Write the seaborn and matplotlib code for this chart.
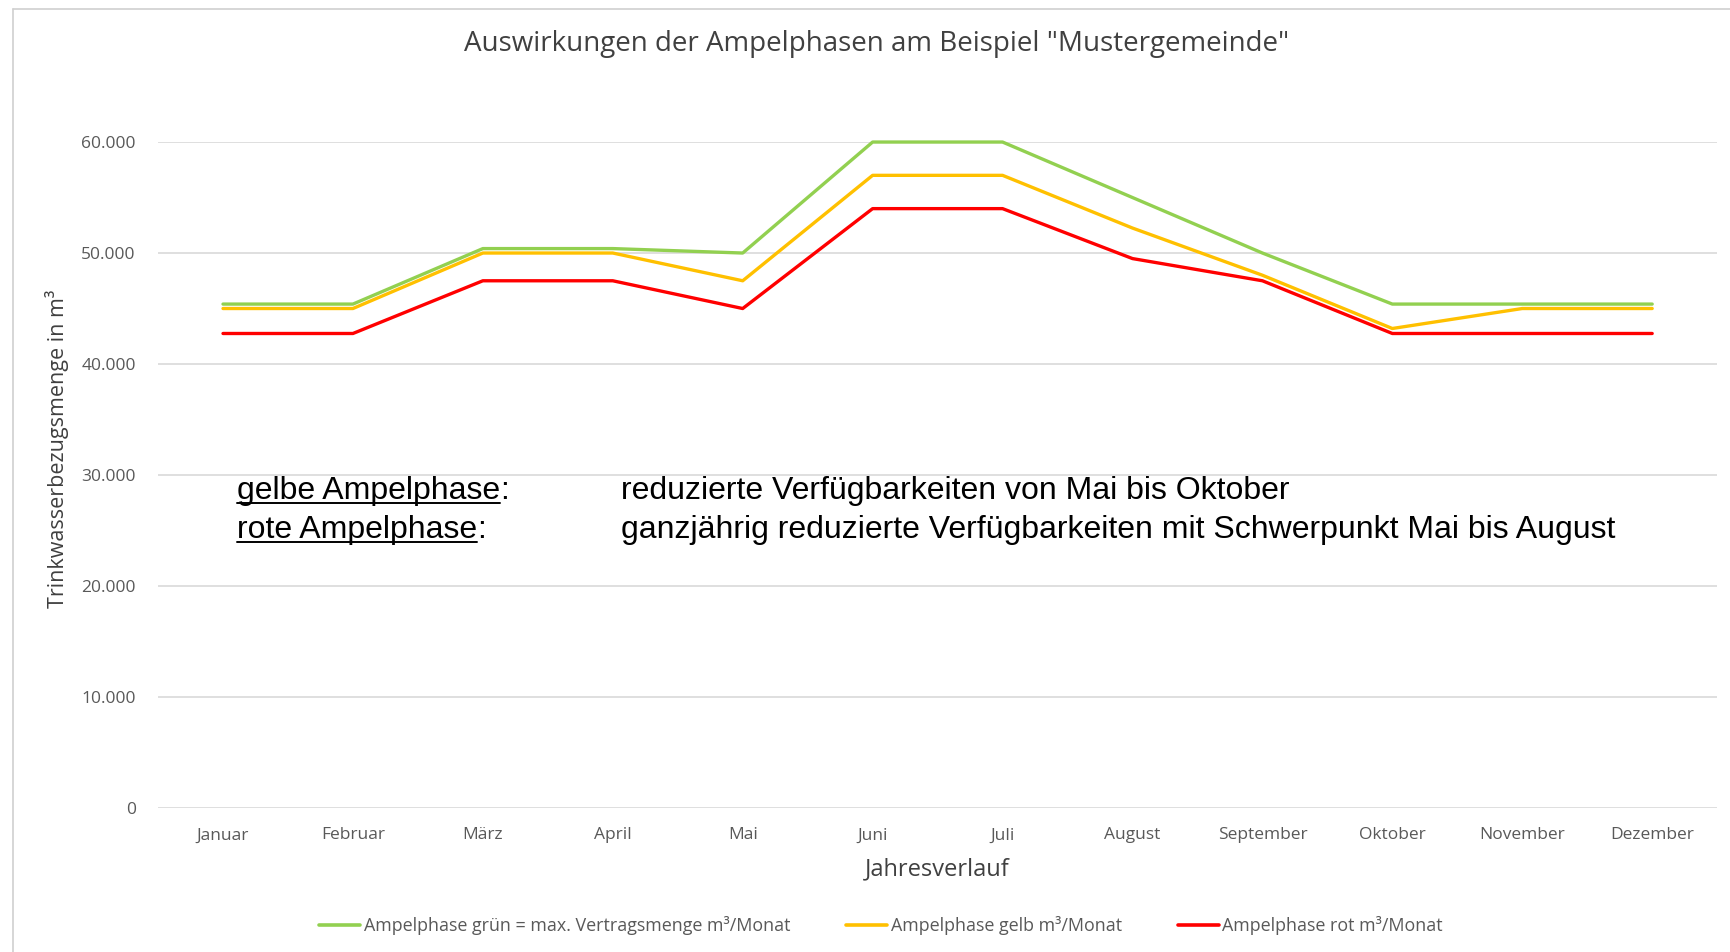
import matplotlib
matplotlib.use("Agg")
import matplotlib.pyplot as plt
from matplotlib.lines import Line2D
from matplotlib.ticker import FuncFormatter
import seaborn as sns
import pandas as pd

# Monthly drinking-water volumes per traffic-light phase (m³)
monate = ["Januar", "Februar", "März", "April", "Mai", "Juni", "Juli",
          "August", "September", "Oktober", "November", "Dezember"]
gruen = [45400, 45400, 50400, 50400, 50000, 60000, 60000, 55000, 50000, 45400, 45400, 45400]
gelb = [45000, 45000, 50000, 50000, 47500, 57000, 57000, 52250, 48000, 43200, 45000, 45000]
rot = [42750, 42750, 47500, 47500, 45000, 54000, 54000, 49500, 47500, 42750, 42750, 42750]

serien = ["Ampelphase grün = max. Vertragsmenge m³/Monat",
          "Ampelphase gelb m³/Monat",
          "Ampelphase rot m³/Monat"]
farben = ["#92D050", "#FFC000", "#FF0000"]
y_ticks = [0, 10000, 20000, 30000, 40000, 50000, 60000]

df = pd.concat([
    pd.DataFrame({"Monat": monate, "Menge": werte, "Phase": name})
    for name, werte in zip(serien, [gruen, gelb, rot])
], ignore_index=True)

sns.set_theme(style="white")
plt.rcParams["font.family"] = ["Open Sans", "DejaVu Sans"]

fig = plt.figure(figsize=(17.31, 9.52), dpi=100)
ax = fig.add_axes([0.0913, 0.1513, 0.9007, 0.6995])

sns.lineplot(data=df, x="Monat", y="Menge", hue="Phase", palette=farben,
             hue_order=serien, sort=False, linewidth=2.4, ax=ax, legend=False,
             clip_on=False)

ax.set_xlim(-0.5, len(monate) - 0.5)
ax.set_ylim(0, 60000)
ax.set_yticks(y_ticks)
ax.yaxis.set_major_formatter(FuncFormatter(lambda v, p: f"{int(v):,}".replace(",", ".")))
ax.grid(axis="y", color="#D9D9D9", linewidth=1.2)
ax.grid(axis="x", visible=False)
ax.set_axisbelow(True)
for s in ax.spines.values():
    s.set_visible(False)
ax.tick_params(axis="both", length=0, labelsize=12.5, labelcolor="#595959")
ax.tick_params(axis="y", pad=16)
ax.tick_params(axis="x", pad=14)

ax.set_xlabel("Jahresverlauf", fontsize=17, color="#404040", labelpad=10)
ax.set_ylabel("Trinkwasserbezugsmenge in m³", fontsize=15.5, color="#404040")
ax.yaxis.set_label_coords(-0.057, 0.54)

fig.text(0.5066, 0.954, "Auswirkungen der Ampelphasen am Beispiel \"Mustergemeinde\"",
         ha="center", va="center", fontsize=20, color="#404040")

# Legend below the axes
handles = [Line2D([], [], color=c, linewidth=2.6) for c in farben]
fig.legend(handles, serien, loc="center", bbox_to_anchor=(0.509, 0.028), ncol=3,
           frameon=False, fontsize=12.9, handlelength=2.3, handletextpad=0.2,
           columnspacing=3.1, labelcolor="#595959")

# Chart-area frame (left and top edge)
fig.add_artist(Line2D([13 / 1731, 13 / 1731], [0, 1 - 9 / 952], color="#D0D0D0",
                      linewidth=1.2, transform=fig.transFigure))
fig.add_artist(Line2D([13 / 1731, 1], [1 - 9 / 952, 1 - 9 / 952], color="#D0D0D0",
                      linewidth=1.2, transform=fig.transFigure))

# Phase notes with underlined headings
notiz_font = dict(fontsize=23, color="black", family=["Liberation Sans", "DejaVu Sans"])
notizen = [("gelbe Ampelphase", "reduzierte Verfügbarkeiten von Mai bis Oktober", 1 - 499 / 952),
           ("rote Ampelphase", "ganzjährig reduzierte Verfügbarkeiten mit Schwerpunkt Mai bis August", 1 - 538 / 952)]
x_kopf = 237 / 1731
x_text = 621 / 1731
fig.canvas.draw()
renderer = fig.canvas.get_renderer()
for kopf, text, y in notizen:
    t = fig.text(x_kopf, y, kopf, ha="left", va="baseline", **notiz_font)
    bb = t.get_window_extent(renderer=renderer).transformed(fig.transFigure.inverted())
    fig.text(bb.x1, y, ":", ha="left", va="baseline", **notiz_font)
    uy = y - 3.5 / 952
    fig.add_artist(Line2D([bb.x0, bb.x1], [uy, uy], color="black", linewidth=1.4,
                          transform=fig.transFigure))
    fig.text(x_text, y, text, ha="left", va="baseline", **notiz_font)

fig.savefig("out.png", dpi=100, facecolor="white")
